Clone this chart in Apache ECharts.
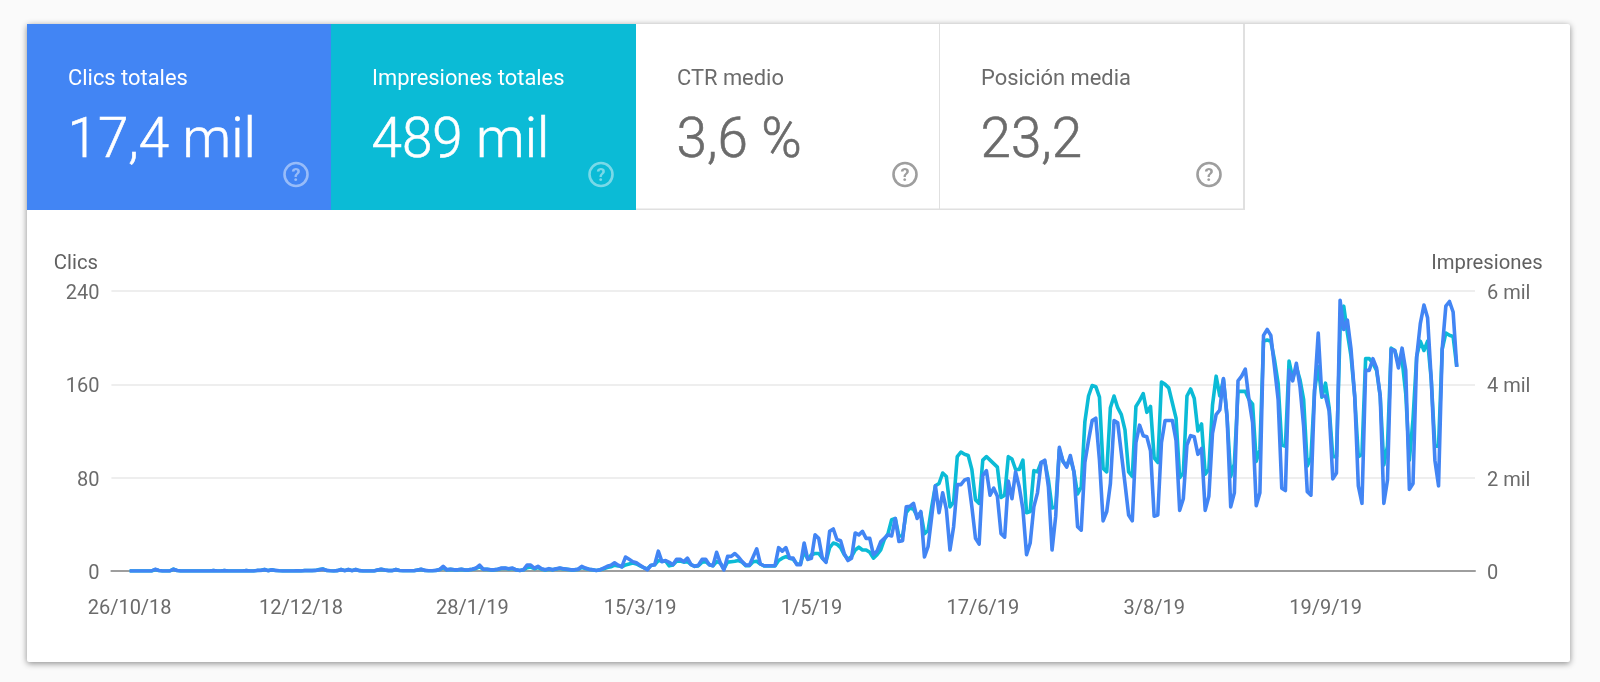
<!DOCTYPE html>
<html>
<head>
<meta charset="utf-8">
<style>html,body{margin:0;padding:0;background:#fafafa}#c{width:1600px;height:682px}</style>
<script src="https://cdn.jsdelivr.net/npm/echarts@6/dist/echarts.min.js"></script>
</head>
<body>
<div id="c"></div>
<script>
const tickLabels = ['26/10/18','12/12/18','28/1/19','15/3/19','1/5/19','17/6/19','3/8/19','19/9/19'];
const clicksTicks = [0,80,160,240];
const statTitles = ['Clics totales','Impresiones totales','CTR medio','Posición media'];
const statValues = ['17,4 mil','489 mil','3,6 %','23,2'];
const clicks = [
0,0,0,0,0,0,0,1.5,0.5,0,
0,0,1.5,0.5,0,0,0,0,0,0,
0,0,0,0.3,0,0,0.3,0,0,0,
0,0,0.3,0,0,0.5,0.5,1.2,0.3,1,
0.5,0.2,0,0,0,0,0.2,0,0.3,0.3,
0.3,0.5,1,1.6,0.5,0.2,0,0.3,1.2,0.3,
1.2,0.3,1.2,0.3,0,0,0,0,0.8,1.5,
0.8,0.3,0.3,1.2,0.4,0.2,0.2,0.2,0.2,0.8,
1.5,0.5,0.2,0.2,0.5,1.2,4,1,1.5,1,
1,1.5,0.8,1,1.5,2.5,5,1.5,1.5,1,
1,1.5,2.5,2.5,2,2.5,1,0.5,1,5,
5,2.5,4,2,1,2,1,2,2.5,2,
1.5,1,1,1.5,4,2.5,1.5,1,0.5,1,
2.5,4,5,7,5,3.5,12,10,8,7,
5,3,1,5,5.4,17,8,9,7.4,5.4,
10,10,8,11,5.4,4,5,10,10,5.4,
4.6,16,7,1,12.5,12.5,15,12,8,5,
5,12,19,6,4.5,4.5,4.5,4.5,20,17,
20,11,11,5.4,5.4,24,10,11,31,28,
11,7.4,34,36,27,26,15,9,11,32.6,
31,34,28,28,14,17,25,28,31,30,
45,25.4,26,55,55.4,58,45,51,12,21,
47,73,50,67,53,18,38,74,74,78,
79,55,28,23,82,86,65,71,64,32,
29,77,62,85,72,53,14,24,55,67,
93,95,72,18,47,106,94,89,99,85,
38,35,93,112,129,131,95,43,51,75,
129,127,101,75,48,43,110,125,116,115,
103,47,48,110,129,129,129,112,52,62,
108,116,115,100,105,52,64,118,134,138,
165,132,55,67,163,167,173,147,127,56,
67,202,207,202,175,147,71,69,172,163,
178,158,124,68,65,155,204,150,150,137,
79,84,232,207,215,190,150,73,58,172,
172,182,174,150,58,78,190,189,174,191,
172,70,75,183,212,228,217,164,95,73,
190,227,231,222,175];
const impressions = [
0,0,0,0,0,0,0,30,10,0,
0,0,40,10,0,0,0,0,0,0,
0,0,0,8,0,0,8,0,0,0,
0,0,8,0,0,10,15,30,8,25,
12,5,0,0,0,0,5,0,8,8,
8,12,30,45,12,5,0,8,30,8,
30,8,30,8,0,0,0,0,20,35,
20,8,8,30,10,5,5,5,5,20,
35,12,5,5,12,30,70,25,35,25,
25,35,20,25,35,55,90,35,35,25,
25,35,55,60,45,55,25,12,25,70,
85,50,75,40,20,40,25,45,60,45,
35,25,25,35,75,55,35,25,12,25,
50,75,90,125,110,90,130,150,170,150,
110,70,45,120,135,225,210,215,110,130,
210,215,190,200,135,100,110,190,200,135,
110,200,170,50,190,200,210,225,190,115,
115,200,210,150,110,110,110,110,225,275,
310,275,250,150,150,425,250,350,375,375,
275,200,500,600,575,500,350,250,310,450,
510,450,450,400,275,350,450,675,800,1100,
1125,750,750,1250,1350,1325,1175,1250,800,875,
1375,1825,1875,2100,2025,1375,1475,2450,2550,2500,
2475,2175,1525,1450,2375,2450,2375,2300,2225,1575,
1625,2450,2400,2175,2175,2375,1250,1275,2150,2125,
2325,2350,1950,1350,1375,2600,2350,2250,2425,2125,
1650,1800,3200,3750,3975,3950,3725,2200,2125,3500,
3750,3500,3350,3025,2125,2025,3525,3650,3800,3400,
3525,2425,2325,4050,4000,3925,3600,3275,2000,2100,
3750,3900,3700,3000,3150,2075,2175,3550,4175,3750,
4100,3300,2025,2300,3850,3850,3850,3675,3575,2350,
2600,4925,4950,4925,4525,4025,2700,2675,4500,4125,
4375,4100,3675,2250,2425,3875,4375,3725,4025,3500,
2450,2450,5175,5675,5100,4600,3750,2450,2500,4550,
4550,4450,4300,3750,2275,2675,4775,4725,4450,4525,
3800,2375,3250,4600,4925,4725,4925,4100,2675,2675,
4750,5100,5050,5025,4375];

const PAD = 5;
const categories = [];
const start = Date.UTC(2018, 9, 26);
for (let i = -PAD; i < clicks.length + PAD; i++) {
  const d = new Date(start + i * 86400000);
  categories.push(d.getUTCDate() + '/' + (d.getUTCMonth() + 1) + '/' + String(d.getUTCFullYear()).slice(2));
}
const pad = new Array(PAD).fill(null);

const FONT = 'Roboto';
const BLUE = '#4285f4', TEAL = '#0bbbd6';
const tiles = [
  {x:27, w:304, fill:BLUE, fg:'#ffffff', q:'rgba(255,255,255,0.45)'},
  {x:331, w:305, fill:TEAL, fg:'#ffffff', q:'rgba(255,255,255,0.45)'},
  {x:636, w:304, fill:'#ffffff', fg:'#6b6b6b', q:'#9e9e9e'},
  {x:940, w:304, fill:'#ffffff', fg:'#6b6b6b', q:'#9e9e9e'}
];
const g = [];
g.push({type:'rect', z:-10, shape:{x:27,y:24,width:1543,height:638,r:2},
  style:{fill:'#fff', shadowBlur:6, shadowColor:'rgba(0,0,0,0.45)', shadowOffsetY:1.5}});
tiles.forEach((t,k) => {
  g.push({type:'rect', z:-9, shape:{x:t.x,y:24,width:t.w,height:186}, style:{fill:t.fill}});
  if (k >= 2) {
    g.push({type:'rect', z:-8, shape:{x:t.x,y:208.5,width:t.w,height:1.5}, style:{fill:'#e0e0e0'}});
    g.push({type:'rect', z:-8, shape:{x:t.x+t.w-1,y:24,width:k===3?2:1,height:186}, style:{fill:'#e0e0e0'}});
  }
  const tx = t.x + 41;
  g.push({type:'text', z:5, style:{x:tx, y:80, text:statTitles[k], fill:t.fg, font:'400 21.9px '+FONT, textVerticalAlign:'middle', textBaseline:'middle'}});
  g.push({type:'text', z:5, style:{x:tx-0.5, y:143, text:statValues[k], fill:t.fg, font:'300 54.8px '+FONT, textVerticalAlign:'middle', textBaseline:'middle', stroke:t.fg, lineWidth:0.6}});
  const cx = t.x + t.w - 35, cy = 174.5;
  g.push({type:'circle', z:5, shape:{cx:cx, cy:cy, r:11.5}, style:{fill:'none', stroke:t.q, lineWidth:2.6}});
  g.push({type:'text', z:5, style:{x:cx, y:cy+1.5, text:'?', fill:t.q, font:'700 18px '+FONT, textAlign:'center', textVerticalAlign:'middle', textBaseline:'middle'}});
});

const chart = echarts.init(document.getElementById('c'), null, {renderer:'canvas'});
chart.setOption({
  animation:false,
  backgroundColor:'#fafafa',
  textStyle:{fontFamily:FONT},
  grid:{left:111.4, right:125, top:291, bottom:111},
  graphic:g,
  xAxis:{
    type:'category', boundaryGap:false, data:categories,
    axisLine:{show:true, onZero:false, lineStyle:{color:'#9e9e9e', width:2}},
    axisTick:{show:false},
    splitLine:{show:false},
    axisLabel:{
      color:'#6b6b6b', fontSize:20, fontFamily:FONT, margin:28,
      interval:(idx,val)=>idx>=PAD && tickLabels.includes(val)
    }
  },
  yAxis:[
    {type:'value', min:0, max:240, interval:80, position:'left',
     name:'Clics', nameLocation:'end', nameGap:17, nameMoveOverlap:false,
     nameTextStyle:{color:'#616161', fontSize:20.3, fontFamily:FONT, align:'center', padding:[0,71,0,0]},
     axisLine:{show:false}, axisTick:{show:false},
     axisLabel:{color:'#6b6b6b', fontSize:20, fontFamily:FONT, margin:12, verticalAlign:'top', lineHeight:6},
     splitLine:{lineStyle:{color:'#eeeeee', width:2}}},
    {type:'value', min:0, max:6000, interval:2000, position:'right',
     name:'Impresiones', nameLocation:'end', nameGap:17, nameMoveOverlap:false,
     nameTextStyle:{color:'#616161', fontSize:20.3, fontFamily:FONT, align:'center', padding:[0,0,0,24]},
     axisLine:{show:false}, axisTick:{show:false},
     axisLabel:{color:'#6b6b6b', fontSize:20, fontFamily:FONT, margin:12, verticalAlign:'top', lineHeight:6,
       formatter:v=>v===0?'0':(v/1000)+' mil'},
     splitLine:{show:false}}
  ],
  series:[
    {name:'Impresiones', type:'line', yAxisIndex:1, data:[...pad,...impressions,...pad], showSymbol:false, symbol:'none',
     lineStyle:{color:TEAL, width:3.6, join:'round'}, itemStyle:{color:TEAL}, z:3},
    {name:'Clics', type:'line', yAxisIndex:0, data:[...pad,...clicks,...pad], showSymbol:false, symbol:'none',
     lineStyle:{color:BLUE, width:3.6, join:'round'}, itemStyle:{color:BLUE}, z:4}
  ]
});
</script>
</body>
</html>
